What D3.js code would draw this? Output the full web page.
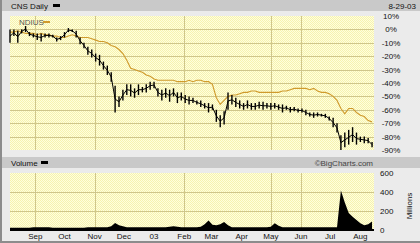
<!DOCTYPE html>
<html>
<head>
<meta charset="utf-8">
<script src="https://cdn.jsdelivr.net/npm/d3@7"></script>
<style>
  body { margin: 0; background: #e8e8e8; }
  svg { display: block; }
  text { font-family: "Liberation Sans", Arial, sans-serif; font-size: 8px; fill: #111; }
</style>
</head>
<body>
<div id="chart"></div>
<script>
// Data: one sample every 4 calendar days from 20 Aug 2002
var startDate = new Date(2002, 7, 20);
var stepDays = 4;

// CNS daily range, % change (high / low)
var cnsHigh = [0, 0, -1, 0, 2.5, -2, -3, -3, -3, -3, -3, -4, -6, -5, -2, 1, 0, -1, -6, -10,
    -13, -15, -18, -19, -24, -27, -32, -42, -50, -45, -41, -41, -44, -41, -43, -41, -39, -39, -44, -45,
    -44, -45, -44, -47, -47, -49, -50, -51, -53, -53, -55, -55, -56, -60, -64, -61, -47, -49, -51, -53,
    -55, -53, -55, -55, -54, -54, -55, -55, -55, -56, -56, -57, -58, -58, -59, -59, -60, -62, -62, -62,
    -63, -63, -65, -66, -70, -79, -77, -75, -73, -77, -80, -80, -81, -84];
var cnsLow = [-10, -5, -10, -3, -2, -5, -6, -8, -9, -6, -6, -6, -9, -8, -6, -2, -2, -6, -11, -14,
    -19, -21, -24, -27, -30, -34, -39, -62, -58, -53, -49, -50, -51, -49, -47, -47, -45, -44, -50, -53,
    -51, -54, -50, -55, -53, -55, -56, -55, -56, -58, -59, -62, -60, -69, -73, -71, -60, -56, -58, -59,
    -60, -59, -60, -60, -59, -60, -59, -60, -59, -60, -62, -60, -62, -61, -62, -62, -64, -65, -66, -65,
    -65, -66, -68, -73, -77, -90, -88, -86, -84, -86, -84, -85, -85, -88];

// comparison series, % change
var compPct = [-2, -2, -1, -2, -3, -3, -3, -4, -3, -4, -4, -5, -5, -6, -6, -5, -4, -5, -6, -6,
    -6, -7, -8, -9, -9, -10, -12, -13, -15, -18, -23, -29, -30, -31, -32, -34, -35, -37, -38, -38,
    -38, -38, -38, -39, -39, -39, -38, -39, -38, -38, -39, -39, -41, -51, -56, -53, -50, -49, -49, -48,
    -47, -47, -46, -46, -47, -47, -47, -47, -47, -47, -46, -46, -45, -44, -44, -44, -44, -45, -44, -46,
    -47, -47, -48, -50, -53, -59, -63, -59, -59, -62, -64, -65, -68, -69];

// volume, millions
var volume = [25, 25, 25, 25, 25, 25, 30, 30, 30, 30, 30, 25, 25, 25, 25, 25, 25, 25, 25, 25,
    30, 30, 30, 30, 30, 30, 40, 75, 50, 40, 30, 30, 30, 30, 30, 30, 30, 30, 30, 30,
    30, 35, 40, 35, 30, 30, 30, 30, 30, 35, 60, 100, 55, 50, 60, 85, 50, 30, 30, 30,
    30, 30, 30, 30, 30, 30, 30, 35, 70, 45, 28, 28, 28, 28, 28, 28, 28, 28, 28, 28,
    28, 28, 28, 28, 28, 415, 290, 180, 140, 105, 70, 50, 60, 90];

var pctTicks = [10, 0, -10, -20, -30, -40, -50, -60, -70, -80, -90];
var volTicks = [0, 200, 400, 600];
var monthLabels = ["Sep", "Oct", "Nov", "Dec", "03", "Feb", "Mar", "Apr", "May", "Jun", "Jul", "Aug"];
var monthDates = ["2002-09-15", "2002-10-15", "2002-11-15", "2002-12-15", "2003-01-15", "2003-02-15",
    "2003-03-15", "2003-04-15", "2003-05-15", "2003-06-15", "2003-07-15", "2003-08-15"];
var gridDates = ["2002-09-15", "2002-11-15", "2003-02-15", "2003-05-15", "2003-06-15"];

var parseDate = d3.timeParse("%Y-%m-%d");
var dates = cnsHigh.map(function(d, i) { return d3.timeDay.offset(startDate, i * stepDays); });

var W = 420, H = 243;
var svg = d3.select("#chart").append("svg")
    .attr("width", W)
    .attr("height", H);

var defs = svg.append("defs");
var pat = defs.append("pattern")
    .attr("id", "dots")
    .attr("width", 2)
    .attr("height", 2)
    .attr("patternUnits", "userSpaceOnUse");
pat.append("rect").attr("width", 2).attr("height", 2).attr("fill", "#ffffdc");
pat.append("rect").attr("width", 1).attr("height", 1).attr("fill", "#f6f2b0");
pat.append("rect").attr("x", 1).attr("y", 1).attr("width", 1).attr("height", 1).attr("fill", "#f6f2b0");

// frame
svg.append("rect").attr("width", W).attr("height", H).attr("fill", "#ebebeb");
svg.append("rect").attr("x", 0).attr("y", 0).attr("width", 2).attr("height", H).attr("fill", "#8c8c8c");
svg.append("rect").attr("x", 0).attr("y", H - 2).attr("width", W).attr("height", 2).attr("fill", "#8c8c8c");
svg.append("rect").attr("x", 2).attr("y", 0).attr("width", W - 2).attr("height", 11).attr("fill", "#c9c9c9");
svg.append("rect").attr("x", 2).attr("y", 157).attr("width", W - 2).attr("height", 11).attr("fill", "#c9c9c9");

var x = d3.scaleTime()
    .domain([startDate, new Date(2003, 7, 29)])
    .range([10, 374]);
var y = d3.scaleLinear()
    .domain([-90, 10])
    .range([150, 16]);
var yv = d3.scaleLinear()
    .domain([0, 600])
    .range([230, 173]);

var gridColor = "#cfc68a";

// price panel
svg.append("rect")
    .attr("x", x.range()[0]).attr("y", y(10))
    .attr("width", x.range()[1] - x.range()[0]).attr("height", y(-90) - y(10))
    .attr("fill", "url(#dots)");

svg.append("g").selectAll("line")
    .data(pctTicks.filter(function(d) { return d < 10 && d > -90; }))
    .enter()
    .append("line")
    .attr("x1", x.range()[0]).attr("x2", x.range()[1])
    .attr("y1", function(d) { return Math.round(y(d)) + 0.5; })
    .attr("y2", function(d) { return Math.round(y(d)) + 0.5; })
    .attr("stroke", gridColor)
    .attr("stroke-width", 1);

svg.append("g").selectAll("line")
    .data(gridDates)
    .enter()
    .append("line")
    .attr("x1", function(d) { return Math.round(x(parseDate(d))) + 0.5; })
    .attr("x2", function(d) { return Math.round(x(parseDate(d))) + 0.5; })
    .attr("y1", y(10)).attr("y2", y(-90))
    .attr("stroke", gridColor);

// comparison line
var compLine = d3.line()
    .x(function(d, i) { return x(dates[i]); })
    .y(function(d) { return y(d); });
svg.append("path")
    .attr("d", compLine(compPct))
    .attr("fill", "none")
    .attr("stroke", "#cf9a2c")
    .attr("stroke-width", 1.1);

// CNS high-low bars
var mid = cnsHigh.map(function(d, i) { return (d + cnsLow[i]) / 2; });
svg.append("path")
    .attr("d", compLine(mid))
    .attr("fill", "none")
    .attr("stroke", "#000")
    .attr("stroke-width", 1);
svg.append("g").selectAll("line")
    .data(cnsHigh)
    .enter()
    .append("line")
    .attr("x1", function(d, i) { return x(dates[i]); })
    .attr("x2", function(d, i) { return x(dates[i]); })
    .attr("y1", function(d) { return y(d); })
    .attr("y2", function(d, i) { return y(cnsLow[i]); })
    .attr("stroke", "#000")
    .attr("stroke-width", 1.4);

// right axis labels
svg.append("g").selectAll("text")
    .data(pctTicks)
    .enter()
    .append("text")
    .attr("x", 391)
    .attr("y", function(d) { return y(d) + 3; })
    .attr("text-anchor", "middle")
    .text(function(d) { return d + "%"; });

// titles and legend
svg.append("text").attr("x", 11).attr("y", 8.5).text("CNS Daily");
svg.append("rect").attr("x", 53).attr("y", 4).attr("width", 7).attr("height", 3).attr("fill", "#000");
svg.append("text").attr("x", 416).attr("y", 8.5).attr("text-anchor", "end").text("8-29-03");
svg.append("text").attr("x", 19).attr("y", 25).style("fill", "#555").text("NDIUS");
svg.append("rect").attr("x", 43).attr("y", 21).attr("width", 7).attr("height", 2).attr("fill", "#cf9a2c");

// volume panel
svg.append("text").attr("x", 11).attr("y", 165.5).text("Volume");
svg.append("rect").attr("x", 41).attr("y", 161).attr("width", 7).attr("height", 3).attr("fill", "#000");
svg.append("text").attr("x", 373).attr("y", 165.5).attr("text-anchor", "end")
    .style("fill", "#444").text("\u00a9BigCharts.com");

svg.append("rect")
    .attr("x", x.range()[0]).attr("y", yv(600))
    .attr("width", x.range()[1] - x.range()[0]).attr("height", yv(0) - yv(600))
    .attr("fill", "url(#dots)");

svg.append("g").selectAll("line")
    .data([200, 400])
    .enter()
    .append("line")
    .attr("x1", x.range()[0]).attr("x2", x.range()[1])
    .attr("y1", function(d) { return Math.round(yv(d)) + 0.5; })
    .attr("y2", function(d) { return Math.round(yv(d)) + 0.5; })
    .attr("stroke", gridColor);

svg.append("g").selectAll("line")
    .data(gridDates)
    .enter()
    .append("line")
    .attr("x1", function(d) { return Math.round(x(parseDate(d))) + 0.5; })
    .attr("x2", function(d) { return Math.round(x(parseDate(d))) + 0.5; })
    .attr("y1", yv(600)).attr("y2", yv(0))
    .attr("stroke", gridColor);

var volArea = d3.area()
    .x(function(d, i) { return x(dates[i]); })
    .y0(yv(0))
    .y1(function(d) { return yv(d); });
svg.append("path")
    .attr("d", volArea(volume))
    .attr("fill", "#000");
svg.append("line")
    .attr("x1", x.range()[0]).attr("x2", x.range()[1])
    .attr("y1", yv(0)).attr("y2", yv(0))
    .attr("stroke", "#000").attr("stroke-width", 2);

svg.append("g").selectAll("text")
    .data(volTicks)
    .enter()
    .append("text")
    .attr("x", 380)
    .attr("y", function(d) { return yv(d) + 3; })
    .text(function(d) { return d; });

svg.append("text")
    .attr("transform", "translate(412,206) rotate(-90)")
    .attr("text-anchor", "middle")
    .text("Millions");

// month axis
svg.append("g").selectAll("text")
    .data(monthLabels)
    .enter()
    .append("text")
    .attr("x", function(d, i) { return x(parseDate(monthDates[i])); })
    .attr("y", 239)
    .attr("text-anchor", "middle")
    .text(function(d) { return d; });
</script>
</body>
</html>
